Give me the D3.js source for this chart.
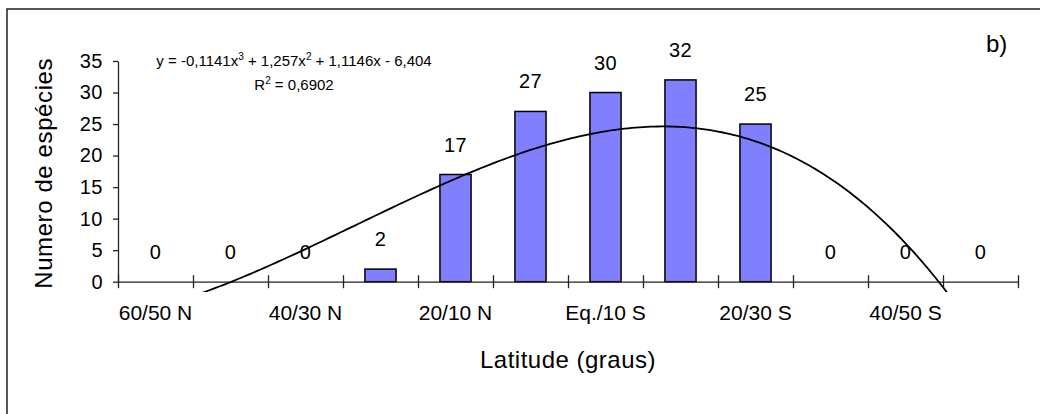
<!DOCTYPE html>
<html>
<head>
<meta charset="utf-8">
<script src="https://cdn.jsdelivr.net/npm/d3@7"></script>
<style>
  body { margin: 0; background: #fff; }
  svg text { font-family: "Liberation Sans", Arial, sans-serif; fill: #000; }
</style>
</head>
<body>
<div class="canvas"></div>
<script>
// latitude bands (only every other one is labelled on the axis)
const categories = ['60/50 N', '50/40 N', '40/30 N', '30/20 N', '20/10 N', '10 N/Eq.',
                    'Eq./10 S', '10/20 S', '20/30 S', '30/40 S', '40/50 S', '50/60 S'];
const shownLabels = ['60/50 N', '40/30 N', '20/10 N', 'Eq./10 S', '20/30 S', '40/50 S'];
const species = [0, 0, 0, 2, 17, 27, 30, 32, 25, 0, 0, 0];
const yTicks = [0, 5, 10, 15, 20, 25, 30, 35];
// polynomial trendline as printed on the chart: a0 + a1 x + a2 x^2 + a3 x^3
const trendCoef = [-6.404, 1.1146, 1.257, -0.1141];
const trendR2 = '0,6902';
const panelTag = 'b)';

const width = 1040;
const height = 414;
const plot = { left: 118, right: 1018, top: 61, bottom: 281.7 };

const svg = d3.select('.canvas')
  .append('svg')
  .attr('width', width)
  .attr('height', height);

// outer chart frame (runs off the right and bottom edges)
svg.append('rect')
  .attr('x', 7)
  .attr('y', 9)
  .attr('width', 1060)
  .attr('height', 440)
  .attr('fill', 'none')
  .attr('stroke', '#222')
  .attr('stroke-width', 1.5);

const x = d3.scaleBand()
  .domain(categories)
  .range([plot.left, plot.right])
  .padding(0);

// numeric position scale for ticks and the trendline (category k centred on k)
const xNum = d3.scaleLinear()
  .domain([0.5, categories.length + 0.5])
  .range([plot.left, plot.right]);

const y = d3.scaleLinear()
  .domain([0, 35])
  .range([plot.bottom, plot.top]);

const barWidth = x.bandwidth() * 0.415;

// bars
svg.append('g')
  .selectAll('rect')
  .data(species.map((v, i) => ({ cat: categories[i], v: v })).filter(d => d.v > 0))
  .enter()
  .append('rect')
    .attr('x', d => x(d.cat) + (x.bandwidth() - barWidth) / 2)
    .attr('y', d => y(d.v))
    .attr('width', barWidth)
    .attr('height', d => y(0) - y(d.v))
    .attr('fill', '#8080ff')
    .attr('stroke', '#000')
    .attr('stroke-width', 1.5);

// y axis
const yAxisGroup = svg.append('g')
  .attr('transform', `translate(${plot.left},0)`)
  .call(d3.axisLeft(y).tickValues(yTicks).tickSize(5).tickSizeOuter(0).tickPadding(10));

yAxisGroup.selectAll('path, line').attr('stroke', '#222').attr('stroke-width', 1.3);
yAxisGroup.selectAll('text')
  .attr('font-size', 20)
  .attr('font-family', '"Liberation Sans", Arial, sans-serif')
  .style('letter-spacing', '0.5px');

// x axis: ticks at band edges, crossing the axis line
const xAxisGroup = svg.append('g')
  .attr('transform', `translate(0,${plot.bottom})`)
  .call(d3.axisBottom(xNum)
    .tickValues(d3.range(0.5, categories.length + 1, 1))
    .tickSize(6.5)
    .tickSizeOuter(0)
    .tickFormat(''));

xAxisGroup.selectAll('.tick line').attr('y1', -6.5);
xAxisGroup.selectAll('path, line').attr('stroke', '#222').attr('stroke-width', 1.3);

// x labels (every other band)
const xLabelGroup = svg.append('g')
  .attr('transform', `translate(0,${plot.bottom})`)
  .call(d3.axisBottom(x)
    .tickSize(0)
    .tickPadding(0)
    .tickFormat(d => shownLabels.includes(d) ? d : ''));

xLabelGroup.select('.domain').remove();
xLabelGroup.selectAll('text')
  .attr('y', 38.5)
  .attr('dy', null)
  .attr('font-size', 21)
  .attr('font-family', '"Liberation Sans", Arial, sans-serif');

// data labels
svg.append('g')
  .selectAll('text')
  .data(species.map((v, i) => ({ cat: categories[i], v: v })))
  .enter()
  .append('text')
    .attr('x', d => x(d.cat) + x.bandwidth() / 2)
    .attr('y', d => y(d.v) - 23)
    .attr('text-anchor', 'middle')
    .attr('font-size', 20)
    .style('letter-spacing', '0.5px')
    .text(d => d.v);

// trendline, clipped a little below the axis like the original
svg.append('clipPath')
  .attr('id', 'trend-clip')
  .append('rect')
    .attr('x', plot.left)
    .attr('y', plot.top)
    .attr('width', plot.right - plot.left)
    .attr('height', 292 - plot.top);

const poly = t => trendCoef.reduce((s, c, k) => s + c * Math.pow(t, k), 0);
const trendX = d3.range(1, categories.length + 0.001, 0.05);

const line = d3.line()
  .x(t => xNum(t))
  .y(t => y(poly(t)));

svg.append('path')
  .datum(trendX)
  .attr('clip-path', 'url(#trend-clip)')
  .attr('fill', 'none')
  .attr('stroke', '#000')
  .attr('stroke-width', 1.8)
  .attr('d', line);

// equation + R2
const fmt = v => String(Math.abs(v)).replace('.', ',');
const eq = svg.append('text')
  .attr('x', 294)
  .attr('y', 66)
  .attr('text-anchor', 'middle')
  .attr('font-size', 15);

const eqParts = [
  [`y = ${trendCoef[3] < 0 ? '-' : ''}${fmt(trendCoef[3])}x`, false],
  ['3', true],
  [` + ${fmt(trendCoef[2])}x`, false],
  ['2', true],
  [` + ${fmt(trendCoef[1])}x - ${fmt(trendCoef[0])}`, false]
];
eqParts.forEach(([txt, sup], i) => {
  eq.append('tspan')
    .attr('dy', sup ? -6 : (i > 0 ? 6 : 0))
    .attr('font-size', sup ? 10 : 15)
    .text(txt);
});

const r2 = svg.append('text')
  .attr('x', 294)
  .attr('y', 90)
  .attr('text-anchor', 'middle')
  .attr('font-size', 15);
r2.append('tspan').text('R');
r2.append('tspan').attr('dy', -6).attr('font-size', 10).text('2');
r2.append('tspan').attr('dy', 6).text(` = ${trendR2}`);

// axis titles
svg.append('text')
  .attr('x', 568)
  .attr('y', 368)
  .attr('text-anchor', 'middle')
  .attr('font-size', 24)
  .style('letter-spacing', '0.5px')
  .text('Latitude (graus)');

svg.append('text')
  .attr('transform', `translate(52,${(plot.top + plot.bottom) / 2 + 2}) rotate(-90)`)
  .attr('text-anchor', 'middle')
  .attr('font-size', 24)
  .style('letter-spacing', '0.6px')
  .text('Numero de espécies');

// panel tag
svg.append('text')
  .attr('x', 986)
  .attr('y', 52)
  .attr('font-size', 24)
  .text(panelTag);
</script>
</body>
</html>
